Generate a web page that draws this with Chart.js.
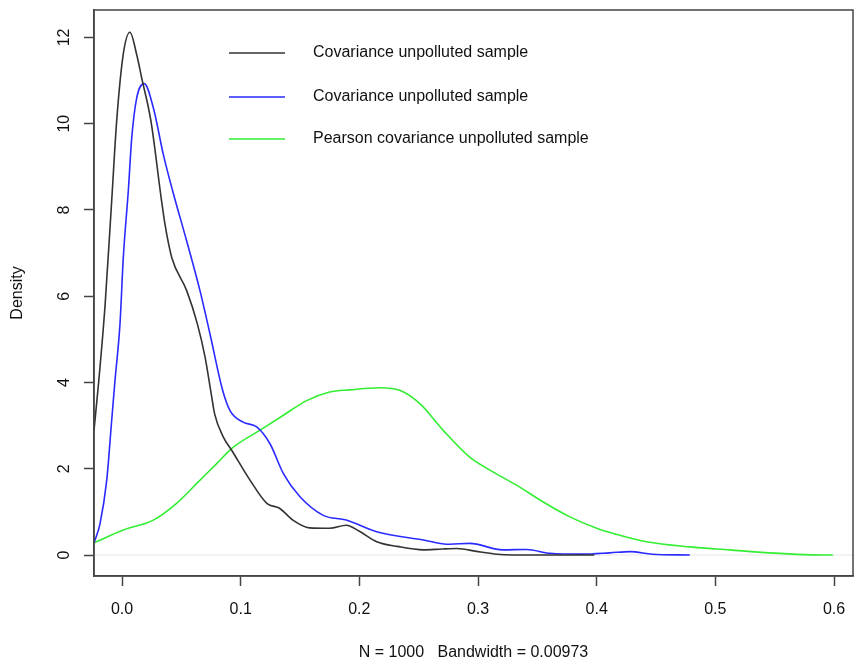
<!DOCTYPE html>
<html>
<head>
<meta charset="utf-8">
<script src="https://cdn.jsdelivr.net/npm/chart.js@4"></script>
<style>
  html, body { margin: 0; padding: 0; background: #ffffff; }
  #wrap { width: 854px; height: 662px; position: relative; }
</style>
</head>
<body>
<div id="wrap"><canvas id="c" width="854" height="662"></canvas></div>
<script>
// ---- data ----
const seriesLabels = ["Covariance unpolluted sample", "Covariance unpolluted sample", "Pearson covariance unpolluted sample"];

const blackX = [-0.0236, -0.0197, -0.0143, -0.0087, -0.0045, 0.001, 0.0067, 0.0124, 0.0166, 0.0244, 0.0329, 0.0362, 0.0419, 0.0545, 0.0635, 0.070, 0.0747, 0.078, 0.0853, 0.0924, 0.108, 0.122, 0.133, 0.144, 0.158, 0.175, 0.189, 0.200, 0.2146, 0.232, 0.254, 0.270, 0.282, 0.300, 0.316, 0.350, 0.398];
const blackY = [2.89, 4.0, 5.78, 8.21, 10.06, 11.6, 12.12, 11.6, 11.06, 10.06, 8.3, 7.67, 6.9, 6.13, 5.36, 4.59, 3.82, 3.28, 2.74, 2.43, 1.73, 1.2, 1.08, 0.81, 0.63, 0.62, 0.69, 0.55, 0.31, 0.2, 0.12, 0.14, 0.15, 0.08, 0.02, 0.0, 0.0];

const blueX = [-0.0236, -0.0185, -0.0129, -0.0087, -0.0059, -0.0017, 0.0011, 0.0053, 0.0082, 0.0124, 0.0188, 0.0264, 0.0348, 0.0427, 0.0545, 0.0657, 0.0741, 0.0848, 0.091, 0.102, 0.1135, 0.1247, 0.136, 0.15, 0.1696, 0.189, 0.2146, 0.254, 0.276, 0.293, 0.321, 0.341, 0.3605, 0.388, 0.411, 0.428, 0.447, 0.4785];
const blueY = [0.28, 0.73, 1.73, 3.12, 4.05, 5.36, 6.9, 8.44, 9.67, 10.6, 10.93, 10.37, 9.29, 8.44, 7.28, 6.13, 5.13, 3.82, 3.35, 3.08, 2.97, 2.58, 1.89, 1.35, 0.92, 0.81, 0.54, 0.35, 0.25, 0.27, 0.12, 0.13, 0.04, 0.02, 0.05, 0.08, 0.02, 0.0];

const greenX = [-0.0236, 0.0011, 0.0264, 0.046, 0.063, 0.0798, 0.0938, 0.116, 0.136, 0.1556, 0.175, 0.192, 0.2173, 0.234, 0.251, 0.2707, 0.293, 0.31, 0.3325, 0.355, 0.377, 0.40, 0.414, 0.442, 0.4785, 0.512, 0.546, 0.575, 0.599];
const greenY = [0.28, 0.58, 0.81, 1.2, 1.66, 2.12, 2.5, 2.89, 3.24, 3.58, 3.78, 3.83, 3.88, 3.82, 3.51, 2.89, 2.27, 1.97, 1.62, 1.23, 0.89, 0.62, 0.5, 0.31, 0.19, 0.12, 0.05, 0.01, 0.0];

const xTickStep = 0.1;
const yTickStep = 2;
const xRange = [-0.0236, 0.616];
const yRange = [-0.486, 12.636];
const xTitle = "N = 1000   Bandwidth = 0.00973";
const yTitle = "Density";

// ---- chart ----
const FONT = "'Liberation Sans', Arial, Helvetica, sans-serif";
const colors = ["#333333", "#2b2bff", "#33ee33"];
const legendLineColors = ["#666666", "#2b2bff", "#33ee33"];

function pts(xs, ys) { return xs.map((x, i) => ({ x: x, y: ys[i] })); }

const extras = {
  id: 'extras',
  beforeDatasetsDraw(chart) {
    const { ctx, chartArea: a, scales } = chart;
    const y0 = scales.y.getPixelForValue(0);
    ctx.save();
    ctx.strokeStyle = '#e6e6e6';
    ctx.lineWidth = 1;
    ctx.beginPath();
    ctx.moveTo(a.left, y0);
    ctx.lineTo(a.right, y0);
    ctx.stroke();
    ctx.restore();
  },
  afterDraw(chart) {
    const { ctx, chartArea: a, scales } = chart;
    ctx.save();
    // box
    ctx.strokeStyle = '#444444';
    ctx.lineWidth = 1.5;
    ctx.strokeRect(a.left, a.top, a.right - a.left, a.bottom - a.top);
    // y tick labels (rotated, as in R)
    ctx.fillStyle = '#111111';
    ctx.font = '16px ' + FONT;
    ctx.textAlign = 'center';
    ctx.textBaseline = 'middle';
    scales.y.ticks.forEach(t => {
      const py = scales.y.getPixelForValue(t.value);
      ctx.save();
      ctx.translate(65, py);
      ctx.rotate(-Math.PI / 2);
      ctx.fillText(String(t.value), 0, 0);
      ctx.restore();
    });
    // legend
    const lx0 = 229, lx1 = 285, tx = 313;
    const ly = [53, 97, 139];
    chart.data.datasets.forEach((ds, i) => {
      ctx.strokeStyle = legendLineColors[i];
      ctx.lineWidth = i === 0 ? 2 : 1.5;
      ctx.beginPath();
      ctx.moveTo(lx0, ly[i]);
      ctx.lineTo(lx1, ly[i]);
      ctx.stroke();
      ctx.fillStyle = '#111111';
      ctx.textAlign = 'left';
      ctx.textBaseline = 'middle';
      ctx.fillText(ds.label, tx, ly[i]);
    });
    ctx.restore();
  }
};

new Chart(document.getElementById('c'), {
  type: 'line',
  data: {
    datasets: [
      { label: seriesLabels[0], data: pts(blackX, blackY), borderColor: colors[0] },
      { label: seriesLabels[1], data: pts(blueX, blueY), borderColor: colors[1] },
      { label: seriesLabels[2], data: pts(greenX, greenY), borderColor: colors[2] }
    ].map(d => Object.assign(d, { borderWidth: 1.6, pointRadius: 0, fill: false, cubicInterpolationMode: 'monotone' }))
  },
  options: {
    responsive: false,
    animation: false,
    events: [],
    layout: { padding: { top: 10, right: 1, left: 0, bottom: 0 } },
    plugins: { legend: { display: false }, tooltip: { enabled: false } },
    scales: {
      x: {
        type: 'linear',
        min: xRange[0], max: xRange[1],
        afterFit(s) { s.height = 86; s.paddingLeft = 0; s.paddingRight = 0; },
        border: { display: true, color: '#444444', width: 1.5 },
        grid: { display: true, drawOnChartArea: false, drawTicks: true, tickLength: 10, tickColor: '#444444', tickWidth: 1.5 },
        ticks: {
          stepSize: xTickStep, includeBounds: false, padding: 14,
          color: '#111111', font: { family: FONT, size: 16 },
          maxRotation: 0, autoSkip: false,
          callback: v => Number(v).toFixed(1)
        },
        title: { display: true, text: xTitle, color: '#111111', font: { family: FONT, size: 16 }, padding: { top: 0, bottom: 0 } }
      },
      y: {
        type: 'linear',
        min: yRange[0], max: yRange[1],
        afterFit(s) { s.width = 94; s.paddingTop = 0; s.paddingBottom = 0; },
        border: { display: true, color: '#444444', width: 1.5 },
        grid: { display: true, drawOnChartArea: false, drawTicks: true, tickLength: 10, tickColor: '#444444', tickWidth: 1.5 },
        ticks: { stepSize: yTickStep, includeBounds: false, display: false, autoSkip: false },
        title: { display: true, text: yTitle, color: '#111111', font: { family: FONT, size: 16 }, padding: { top: 8, bottom: 0 } }
      }
    }
  },
  plugins: [extras]
});
</script>
</body>
</html>
